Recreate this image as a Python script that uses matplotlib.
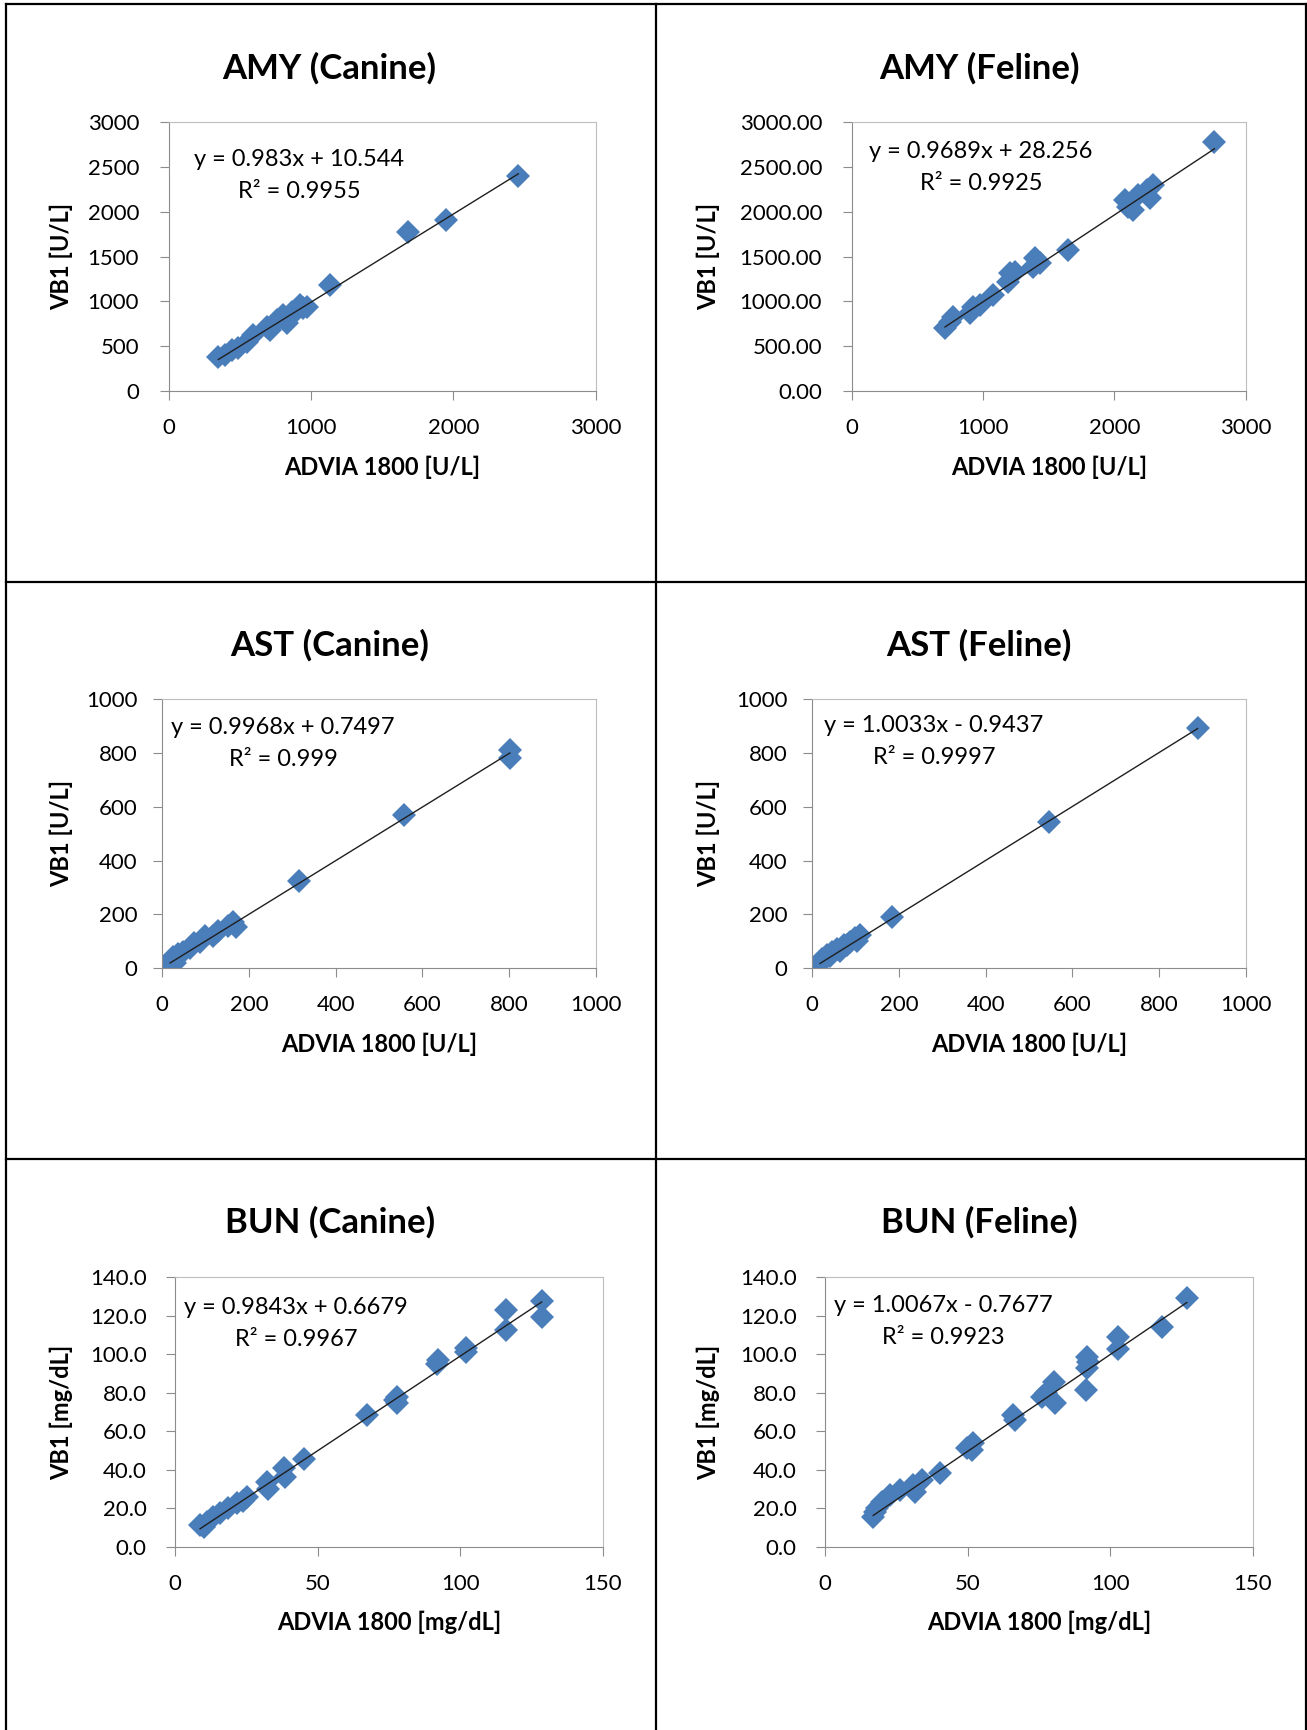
import matplotlib
matplotlib.use("Agg")
import matplotlib.pyplot as plt
from matplotlib.lines import Line2D
from matplotlib.ticker import FormatStrFormatter

plt.rcParams['font.family'] = ['Lato', 'DejaVu Sans']

W, H = 1307, 1730

# ---- data ----
amy_canine_x = [347, 394, 441, 487, 546, 593, 687, 710, 757, 804, 828, 851, 863, 921, 944, 968, 1132, 1678, 1948, 2456]
amy_canine_y = [383, 402, 458, 476, 550, 625, 718, 681, 792, 848, 755, 825, 885, 960, 923, 941, 1183, 1778, 1908, 2400]

amy_feline_x = [709, 747, 772, 899, 925, 976, 1077, 1191, 1204, 1242, 1382, 1395, 1433, 1649,
                2081, 2106, 2144, 2182, 2246, 2271, 2297, 2762]
amy_feline_y = [699, 774, 829, 867, 941, 960, 1071, 1220, 1313, 1332, 1387, 1481, 1425, 1574,
                2132, 2057, 2020, 2188, 2243, 2150, 2299, 2783]

ast_canine_x = [18, 22, 25, 29, 37, 48, 64, 72, 87, 98, 118, 129, 152, 164, 170, 315, 558, 802, 802]
ast_canine_y = [20, 26, 42, 17, 52, 61, 73, 92, 98, 119, 119, 139, 156, 172, 151, 324, 569, 811, 780]

ast_feline_x = [18, 22, 28, 33, 40, 45, 56, 65, 72, 80, 87, 98, 104, 110, 183, 546, 889]
ast_feline_y = [20, 32, 30, 48, 44, 61, 70, 62, 86, 84, 98, 110, 102, 123, 191, 545, 894]

bun_canine_x = [8.8, 10.0, 11.1, 13.4, 15.8, 18.7, 21.6, 24.0, 25.1, 32.1, 32.7, 38.2, 38.5, 45.2,
                67.4, 77.0, 77.7, 77.7, 91.8, 92.3, 102.0, 102.0, 116.0, 116.0, 128.5, 128.5]
bun_canine_y = [11.3, 10.4, 13.0, 15.3, 17.3, 20.0, 22.5, 23.9, 25.7, 33.8, 29.8, 40.7, 36.0, 45.4,
                68.5, 76.0, 78.0, 74.5, 95.0, 97.0, 103.0, 101.0, 123.0, 112.6, 127.7, 119.5]

bun_feline_x = [16.9, 17.4, 18.1, 19.9, 22.8, 26.3, 31.0, 31.5, 33.9, 40.3, 49.7, 51.4, 52.0, 66.0,
                66.6, 76.0, 77.6, 80.4, 80.7, 91.4, 91.7, 92.3, 91.7, 102.8, 102.8, 118.0, 126.8]
bun_feline_y = [15.6, 18.2, 20.0, 23.4, 26.9, 29.5, 32.0, 28.6, 34.7, 38.1, 51.1, 50.3, 53.7, 68.5,
                65.9, 78.0, 79.7, 85.8, 74.5, 81.4, 92.7, 96.0, 98.8, 102.6, 109.0, 114.3, 129.4]

titles = ["AMY (Canine)", "AMY (Feline)", "AST (Canine)", "AST (Feline)", "BUN (Canine)", "BUN (Feline)"]
slopes = [0.983, 0.9689, 0.9968, 1.0033, 0.9843, 1.0067]
intercepts = [10.544, 28.256, 0.7497, -0.9437, 0.6679, -0.7677]
eq_labels = ["y = 0.983x + 10.544", "y = 0.9689x + 28.256", "y = 0.9968x + 0.7497",
             "y = 1.0033x - 0.9437", "y = 0.9843x + 0.6679", "y = 1.0067x - 0.7677"]
r2_labels = ["R\u00b2 = 0.9955", "R\u00b2 = 0.9925", "R\u00b2 = 0.999",
             "R\u00b2 = 0.9997", "R\u00b2 = 0.9967", "R\u00b2 = 0.9923"]
xlabels = ["ADVIA 1800 [U/L]"] * 4 + ["ADVIA 1800 [mg/dL]"] * 2
ylabels = ["VB1 [U/L]"] * 4 + ["VB1 [mg/dL]"] * 2
xs = [amy_canine_x, amy_feline_x, ast_canine_x, ast_feline_x, bun_canine_x, bun_feline_x]
ys = [amy_canine_y, amy_feline_y, ast_canine_y, ast_feline_y, bun_canine_y, bun_feline_y]

xlims = [(0, 3000), (0, 3000), (0, 1000), (0, 1000), (0, 150), (0, 150)]
xsteps = [1000, 1000, 200, 200, 50, 50]
ylims = [(0, 3000), (0, 3000), (0, 1000), (0, 1000), (0, 140), (0, 140)]
ysteps = [500, 500, 200, 200, 20, 20]
yfmts = ['%d', '%.2f', '%d', '%d', '%.1f', '%.1f']

# ---- layout (pixels) ----
boxes = [(169, 122.3, 595.7, 391), (852, 122.3, 1245.7, 391),
         (162.3, 699.3, 595.7, 968), (812.3, 699.3, 1245.7, 968),
         (175, 1277.3, 603, 1546.7), (825, 1277.3, 1253, 1546.7)]
title_pos = [(329, 68), (979, 68), (330, 645), (979, 645), (330, 1222), (979, 1222)]
eq_pos = [(299, 160, 191), (981, 152, 184), (283, 728, 760),
          (934, 726, 758), (296, 1308, 1339), (943, 1306, 1337)]
ylabel_x = [61, 708, 61, 708, 61, 708]
ypads = [15, 15, 11.5, 11.5, 14, 14]

blue = '#4A7EBB'
axis_grey = '#8C8C8C'


def fx(x):
    return x / W


def fy(y):
    return 1 - y / H


fig = plt.figure(figsize=(W / 100, H / 100), dpi=100)

for i in range(6):
    L, T, R, B = boxes[i]
    ax = fig.add_axes([fx(L), fy(B), (R - L) / W, (B - T) / H])
    ax.plot(xs[i], ys[i], linestyle='none', marker='D', ms=12, color=blue,
            markeredgewidth=0, zorder=2)
    x0, x1 = min(xs[i]), max(xs[i])
    ax.plot([x0, x1], [slopes[i] * x0 + intercepts[i], slopes[i] * x1 + intercepts[i]],
            color='#1f1f1f', lw=1.0, zorder=3)

    ax.set_xlim(*xlims[i])
    ax.set_ylim(*ylims[i])
    ax.set_xticks(range(xlims[i][0], xlims[i][1] + 1, xsteps[i]))
    ax.set_yticks(range(ylims[i][0], ylims[i][1] + 1, ysteps[i]))
    ax.yaxis.set_major_formatter(FormatStrFormatter(yfmts[i]))
    ax.tick_params(direction='out', length=6.5, width=0.8, color=axis_grey,
                   labelsize=16, labelcolor='black')
    ax.tick_params(axis='x', pad=13)
    ax.tick_params(axis='y', pad=ypads[i])
    for s in ['left', 'bottom']:
        ax.spines[s].set_color(axis_grey)
        ax.spines[s].set_linewidth(0.8)
    for s in ['top', 'right']:
        ax.spines[s].set_color('#BDBDBD')
        ax.spines[s].set_linewidth(0.8)

    ax.set_xlabel(xlabels[i], fontsize=17, fontweight='bold')
    ax.xaxis.label.set_va('center')
    ax.xaxis.set_label_coords(0.5, -76 / (B - T))
    ax.set_ylabel(ylabels[i], fontsize=17, fontweight='bold')
    ax.yaxis.label.set_va('center')
    ax.yaxis.set_label_coords((ylabel_x[i] - L) / (R - L), 0.5)

    fig.text(fx(title_pos[i][0]), fy(title_pos[i][1]), titles[i], fontsize=25,
             fontweight='bold', ha='center', va='center')
    ex, ey1, ey2 = eq_pos[i]
    fig.text(fx(ex), fy(ey1), eq_labels[i], fontsize=17, ha='center', va='center')
    fig.text(fx(ex), fy(ey2), r2_labels[i], fontsize=17, ha='center', va='center')

# table borders
for x in [6, 656, 1306]:
    fig.add_artist(Line2D([fx(x), fx(x)], [fy(3.7), 0], color='black', lw=1.6))
for y in [3.7, 581.7, 1159]:
    fig.add_artist(Line2D([fx(6), fx(1306)], [fy(y), fy(y)], color='black', lw=1.6))

fig.savefig('out.png', dpi=100)
